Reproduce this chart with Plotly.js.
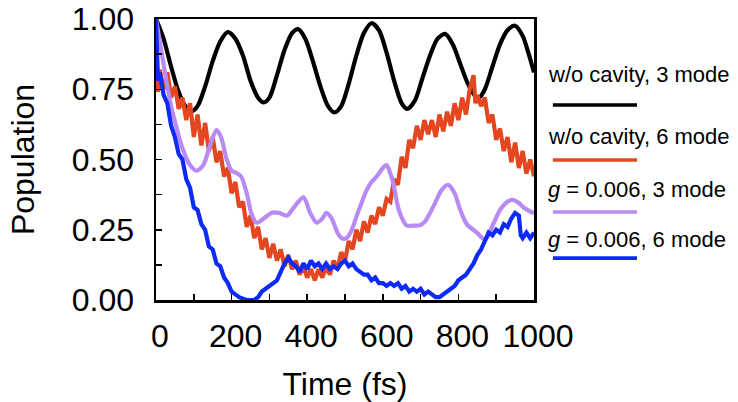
<!DOCTYPE html>
<html>
<head>
<meta charset="utf-8">
<script src="https://cdn.plot.ly/plotly-3.0.1.min.js"></script>
<style>html,body{margin:0;padding:0;background:#fff;}#chart{width:738px;height:402px;}</style>
</head>
<body>
<div id="chart"></div>
<script>
// ---- data ----
const seriesNames = ["w/o cavity, 3 mode", "w/o cavity, 6 mode", "<i>g</i> = 0.006, 3 mode", "<i>g</i> = 0.006, 6 mode"];

const tBlack = [0,20,40,60,80,95,110,130,150,170,190,210,230,250,270,285,300,320,340,360,376,395,415,435,455,472,490,510,530,550,570,590,610,630,650,665,685,705,725,745,765,785,805,825,845,855,870,890,910,930,950,970,985,1000];
const vBlack = [1.00,0.93,0.83,0.74,0.685,0.672,0.69,0.76,0.85,0.92,0.953,0.93,0.87,0.78,0.72,0.703,0.72,0.80,0.89,0.95,0.964,0.93,0.85,0.76,0.69,0.668,0.69,0.77,0.87,0.95,0.985,0.96,0.88,0.78,0.70,0.68,0.71,0.79,0.87,0.93,0.947,0.91,0.84,0.77,0.725,0.72,0.75,0.83,0.91,0.96,0.976,0.94,0.88,0.81];

const tRed = [0,5,10,20,30,40,50,60,70,80,90,100,110,120,130,140,150,160,170,180,190,200,210,220,230,240,250,260,270,280,290,300,310,320,330,340,350,360,370,380,390,400,410,420,430,440,450,460,470,480,490,500,510,520,530,540,550,560,570,580,590,600,610,620,630,640,650,660,670,680,690,700,710,720,730,740,750,760,770,780,790,800,810,820,830,840,845,850,860,870,880,890,900,910,920,930,940,950,960,970,980,990,1000];
const vRed = [1.00,0.74,0.82,0.75,0.81,0.72,0.76,0.68,0.72,0.64,0.70,0.58,0.66,0.55,0.63,0.53,0.58,0.49,0.53,0.44,0.47,0.38,0.42,0.33,0.35,0.26,0.30,0.22,0.26,0.18,0.22,0.15,0.20,0.14,0.18,0.12,0.16,0.11,0.14,0.09,0.12,0.08,0.11,0.07,0.11,0.08,0.12,0.09,0.14,0.11,0.17,0.14,0.21,0.18,0.25,0.21,0.28,0.24,0.30,0.27,0.33,0.30,0.36,0.35,0.43,0.41,0.51,0.47,0.57,0.54,0.62,0.57,0.64,0.59,0.64,0.58,0.66,0.60,0.67,0.62,0.70,0.64,0.72,0.66,0.75,0.80,0.70,0.73,0.69,0.72,0.63,0.66,0.57,0.61,0.53,0.58,0.49,0.56,0.47,0.53,0.45,0.50,0.44];

const tPurple = [0,10,20,30,40,55,70,90,107,125,143,160,172,187,200,213,225,240,252,266,285,305,325,346,365,390,408,425,440,451,465,480,491,504,518,531,545,557,570,584,600,610,620,628,637,645,663,680,698,712,725,740,755,773,790,805,822,849,871,893,910,930,946,960,972,990,1000];
const vPurple = [1.00,0.92,0.84,0.76,0.69,0.61,0.54,0.48,0.46,0.48,0.55,0.605,0.58,0.50,0.46,0.452,0.44,0.38,0.31,0.275,0.29,0.31,0.31,0.30,0.33,0.365,0.31,0.275,0.29,0.31,0.29,0.24,0.22,0.22,0.25,0.30,0.35,0.39,0.42,0.44,0.47,0.48,0.45,0.415,0.35,0.31,0.265,0.265,0.266,0.28,0.31,0.35,0.39,0.41,0.38,0.32,0.27,0.24,0.215,0.273,0.32,0.35,0.356,0.345,0.33,0.315,0.31];

const tBlue = [0,5,10,20,30,40,50,60,70,80,90,100,110,120,130,140,150,160,170,180,190,200,210,220,230,240,250,260,270,280,290,300,310,320,330,340,350,360,370,380,390,400,410,420,430,440,450,460,470,480,490,500,510,520,530,540,550,560,570,580,590,600,610,620,630,640,650,660,670,680,690,700,710,720,730,740,750,760,770,780,790,800,810,820,830,840,850,860,870,880,890,900,910,920,930,940,950,960,965,970,980,990,1000];
const vBlue = [1.00,0.78,0.81,0.73,0.70,0.62,0.58,0.52,0.50,0.43,0.40,0.33,0.32,0.27,0.25,0.19,0.18,0.13,0.12,0.08,0.06,0.03,0.02,0.01,0.005,0.00,0.00,0.00,0.01,0.03,0.04,0.05,0.06,0.07,0.10,0.13,0.15,0.13,0.12,0.10,0.13,0.11,0.14,0.12,0.13,0.11,0.13,0.11,0.12,0.11,0.13,0.14,0.12,0.13,0.11,0.10,0.09,0.09,0.07,0.08,0.06,0.06,0.05,0.06,0.05,0.06,0.04,0.05,0.03,0.04,0.03,0.04,0.02,0.03,0.02,0.01,0.01,0.02,0.03,0.04,0.05,0.07,0.08,0.09,0.11,0.13,0.16,0.18,0.21,0.24,0.23,0.25,0.24,0.27,0.26,0.29,0.31,0.30,0.23,0.22,0.24,0.22,0.24];

const xTickVals = [0,200,400,600,800,1000];
const yTickVals = [0,0.25,0.5,0.75,1.0];
const yTickText = ["0.00","0.25","0.50","0.75","1.00"];

// ---- styles ----
const colors = ["#000000", "#E4461F", "#B88AF4", "#0D2AF8"];
const shapesKind = ["spline","linear","spline","linear"];
const FONT = "Liberation Sans, Arial, Helvetica, sans-serif";

const xs = [tBlack, tRed, tPurple, tBlue];
const ys = [vBlack, vRed, vPurple, vBlue];

const traces = xs.map((x, i) => ({
  x: x, y: ys[i], type: "scatter", mode: "lines",
  name: seriesNames[i], showlegend: false,
  line: {color: colors[i], width: 4.2, shape: shapesKind[i], smoothing: 0.8}
}));

// legend built from annotations + shapes (text above the line sample)
const legTextY = [0.801, 0.582, 0.392, 0.214];
const legLineY = [0.694, 0.498, 0.313, 0.149];
const annotations = seriesNames.map((n, i) => ({
  xref: "paper", yref: "paper", x: 1.031, y: legTextY[i],
  xanchor: "left", yanchor: "middle", showarrow: false,
  text: n, font: {family: FONT, size: 22, color: "#000"}
}));
const shapes = seriesNames.map((n, i) => ({
  type: "line", xref: "paper", yref: "paper",
  x0: 1.050, x1: 1.2725, y0: legLineY[i], y1: legLineY[i],
  line: {color: colors[i], width: 3.6}
}));

const layout = {
  width: 738, height: 402,
  margin: {l: 156, r: 204, t: 19, b: 102},
  paper_bgcolor: "#fff", plot_bgcolor: "#fff",
  font: {family: FONT, color: "#000", size: 32},
  xaxis: {
    range: [0, 1000], tickvals: xTickVals, ticks: "inside", ticklen: 6, tickwidth: 1.5, tickcolor: "#000",
    minor: {dtick: 100, ticks: "inside", ticklen: 6, tickwidth: 1.5, tickcolor: "#000"},
    showline: true, linecolor: "#000", linewidth: 2.5, mirror: true, showgrid: false, zeroline: false,
    tickfont: {family: FONT, size: 32, color: "#000"}, ticklabelstandoff: 6, ticklabelshift: 4,
    title: {text: "Time (fs)", font: {family: FONT, size: 32, color: "#000"}, standoff: 22}
  },
  yaxis: {
    range: [0, 1], tickvals: yTickVals, ticktext: yTickText, ticks: "inside", ticklen: 6, tickwidth: 1.5, tickcolor: "#000",
    minor: {dtick: 0.125, ticks: "inside", ticklen: 6, tickwidth: 1.5, tickcolor: "#000"},
    showline: true, linecolor: "#000", linewidth: 2.5, mirror: true, showgrid: false, zeroline: false,
    tickfont: {family: FONT, size: 32, color: "#000"}, ticklabelstandoff: 13,
    title: {text: "Population", font: {family: FONT, size: 32, color: "#000"}, standoff: 28}
  },
  annotations: annotations,
  shapes: shapes
};

Plotly.newPlot("chart", traces, layout, {staticPlot: true, displayModeBar: false});
</script>
</body>
</html>
